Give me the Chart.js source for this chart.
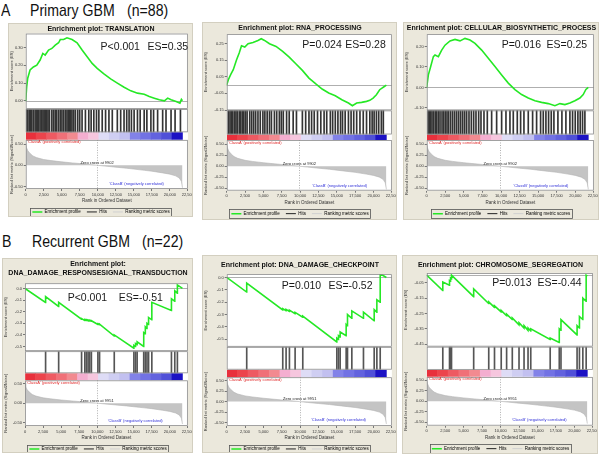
<!DOCTYPE html>
<html>
<head>
<meta charset="utf-8">
<script src="https://cdn.jsdelivr.net/npm/chart.js@4.4.0/dist/chart.umd.min.js"></script>
<style>
  body { margin: 0; background: #fff; width: 600px; height: 457px; position: relative; overflow: hidden;
         font-family: 'Liberation Sans', Arial, sans-serif; }
  .head { position: absolute; font-size: 17px; line-height: 17px; color: #111; white-space: nowrap;
          transform-origin: left top; transform: scaleX(0.83); }
  .panel { position: absolute; background: #ebe8dc; border: 1px solid #d3cfc0; box-sizing: border-box; overflow: hidden; }
  .panel canvas { position: absolute; left: 0; top: 0; }
</style>
</head>
<body>
<div class="head" style="left:1px;top:2px">A</div>
<div class="head" style="left:30px;top:2px">Primary GBM</div>
<div class="head" style="left:127px;top:2px">(n=88)</div>
<div class="head" style="left:2px;top:233px">B</div>
<div class="head" style="left:32px;top:233px">Recurrent GBM</div>
<div class="head" style="left:142px;top:233px">(n=22)</div>

<div class="panel" style="left:8px;top:23px;width:185px;height:194px"><canvas id="a1" width="186" height="192"></canvas></div>
<div class="panel" style="left:202px;top:22px;width:195px;height:198px"><canvas id="a2" width="196" height="196"></canvas></div>
<div class="panel" style="left:403px;top:22px;width:196px;height:198px"><canvas id="a3" width="197" height="196"></canvas></div>
<div class="panel" style="left:2px;top:258px;width:191px;height:195px"><canvas id="b1" width="192" height="193"></canvas></div>
<div class="panel" style="left:202px;top:255px;width:195px;height:198px"><canvas id="b2" width="196" height="196"></canvas></div>
<div class="panel" style="left:402px;top:255px;width:196px;height:199px"><canvas id="b3" width="197" height="197"></canvas></div>

<script>
// Shared ranked list (signal2noise) and axis ticks
const rankTicks = [0, 2500, 5000, 7500, 10000, 12500, 15000, 17500, 20000, 22500];
const metricTicks = [-0.5, -0.25, 0, 0.25, 0.5];
const metricRanks = [0, 100, 300, 600, 1000, 1500, 2500, 3500, 5000, 6500, 7500, 8800, 9900, 11000, 12500, 14000, 15000, 16500, 17500, 19000, 20000, 20800, 21300, 21600, 21750];
const metricValues = [0.52, 0.42, 0.34, 0.28, 0.22, 0.18, 0.135, 0.11, 0.08, 0.055, 0.04, 0.018, 0.0, -0.02, -0.045, -0.07, -0.09, -0.12, -0.14, -0.18, -0.21, -0.25, -0.3, -0.38, -0.53];
const colorBarEdges = [0, 1450, 2900, 4350, 5800, 7250, 8700, 10150, 11600, 13050, 14500, 15950, 17400, 18850, 20300, 21750];

// A: Primary GBM
const translationRank = [0, 140, 280, 605, 1070, 1540, 2000, 2375, 2700, 3170, 3630, 4100, 4565, 4800, 5260, 5730, 6430, 7130, 7825, 8525, 9220, 9920, 10850, 11785, 12715, 13650, 14580, 15510, 16440, 17140, 17840, 18540, 19240, 19700, 20170, 20870, 21400, 21600, 21750];
const translationES = [0, 0.08, 0.127, 0.173, 0.19, 0.2, 0.229, 0.266, 0.257, 0.285, 0.294, 0.313, 0.326, 0.344, 0.344, 0.354, 0.344, 0.326, 0.285, 0.248, 0.21, 0.182, 0.151, 0.123, 0.099, 0.076, 0.056, 0.043, 0.037, 0.024, 0.015, 0.006, 0.0, 0.015, 0.006, -0.004, -0.013, 0.008, 0.0];
const translationHits = [135, 300, 507, 700, 833, 1050, 1299, 1450, 1625, 1800, 1998, 2231, 2400, 2557, 2750, 2929, 3100, 3302, 3628, 3861, 4094, 4300, 4560, 4800, 5026, 5258, 5500, 5724, 5900, 6097, 6260, 6423, 6656, 6889, 7215, 7494, 7820, 8286, 8752, 9078, 9451, 9823, 10150, 10615, 11081, 11547, 12013, 12711, 13177, 13643, 14015, 14342, 14668, 15040, 15506, 15879, 16438, 16810, 17369, 17742, 18301, 19000, 19465, 20164, 20723, 21468];
const translationTicks = [0, 0.05, 0.1, 0.15, 0.2, 0.25, 0.3, 0.35];

const rnaRank = [0, 224, 538, 896, 1345, 1703, 2017, 2465, 2913, 3586, 4258, 4706, 5154, 5827, 6723, 7620, 8516, 9412, 10309, 11205, 12101, 12998, 13894, 14790, 15687, 16584, 17121, 17704, 18375, 19048, 19495, 19944, 20392, 20840, 21155, 21424, 21750];
const rnaES = [0, 0.032, 0.062, 0.092, 0.152, 0.192, 0.236, 0.228, 0.248, 0.256, 0.268, 0.278, 0.268, 0.248, 0.232, 0.202, 0.168, 0.128, 0.088, 0.042, 0.008, -0.024, -0.048, -0.064, -0.088, -0.108, -0.124, -0.108, -0.104, -0.098, -0.092, -0.078, -0.058, -0.028, -0.018, -0.01, 0.0];
const rnaHits = [224, 448, 627, 807, 1031, 1255, 1434, 1703, 1882, 2107, 2331, 2555, 2779, 3137, 3406, 3675, 3944, 4258, 4572, 4930, 5199, 5513, 5827, 6095, 6499, 6813, 7171, 7440, 7709, 8157, 8516, 9054, 9502, 10309, 10757, 11205, 11564, 11922, 12370, 12819, 13267, 13625, 14118, 14432, 14791, 15149, 15508, 15777, 16135, 16583, 16942, 17301, 17704, 18152, 18600, 19048, 19496, 19810, 20079, 20393, 20707, 21065, 21334];
const rnaTicks = [-0.15, -0.1, -0.05, 0, 0.05, 0.1, 0.15, 0.2, 0.25, 0.3];

const biosynRank = [0, 224, 538, 896, 1120, 1570, 2017, 2465, 3137, 3810, 4482, 5154, 5827, 6500, 7396, 8292, 9188, 10085, 10981, 11877, 12773, 13670, 14566, 15462, 16359, 17255, 17928, 18600, 19273, 19944, 20616, 21064, 21424, 21750];
const biosynES = [0, 0.061, 0.102, 0.15, 0.158, 0.15, 0.182, 0.206, 0.227, 0.234, 0.227, 0.239, 0.231, 0.215, 0.182, 0.142, 0.102, 0.061, 0.021, -0.011, -0.035, -0.052, -0.065, -0.073, -0.079, -0.089, -0.079, -0.084, -0.076, -0.065, -0.052, -0.035, -0.01, 0.0];
const biosynHits = [179, 359, 538, 717, 941, 1165, 1345, 1569, 1793, 2062, 2286, 2510, 2734, 2958, 3227, 3496, 3765, 4034, 4303, 4572, 4841, 5109, 5378, 5692, 6006, 6320, 6633, 6992, 7306, 7709, 8157, 8740, 9412, 10085, 10667, 11205, 11653, 12191, 12639, 13087, 13670, 14253, 14791, 15328, 15687, 16045, 16404, 16763, 17121, 17659, 18197, 18735, 19273, 19631, 19990, 20348, 20662, 20976, 21290];
const biosynTicks = [-0.1, -0.05, 0, 0.05, 0.1, 0.15, 0.2, 0.25];

// B: Recurrent GBM
const dnaRespRank = [0, 2830, 2845, 4635, 4650, 7800, 7815, 8250, 8265, 8480, 8490, 8700, 8715, 8930, 8940, 9160, 9170, 10060, 10070, 10290, 10300, 12320, 12330, 15030, 15040, 15260, 15270, 15480, 15490, 16390, 16400, 16610, 16620, 16840, 16850, 17060, 17070, 17510, 17520, 20220, 20230, 20680, 20690, 21040, 21050, 21750];
const dnaRespES = [0, -0.12, -0.07, -0.155, -0.12, -0.265, -0.26, -0.275, -0.268, -0.276, -0.27, -0.278, -0.272, -0.28, -0.275, -0.283, -0.278, -0.31, -0.305, -0.313, -0.307, -0.41, -0.4, -0.515, -0.49, -0.5, -0.475, -0.485, -0.46, -0.5, -0.38, -0.39, -0.33, -0.345, -0.3, -0.31, -0.25, -0.27, -0.12, -0.19, -0.09, -0.11, -0.02, -0.04, 0.03, 0.0];
const dnaRespHits = [2845, 4650, 7815, 8265, 8490, 8715, 8940, 9170, 10070, 10300, 12330, 15040, 15270, 15490, 16400, 16620, 16850, 17070, 17520, 20230, 20690, 21050];
const dnaRespTicks = [-0.5, -0.4, -0.3, -0.2, -0.1, 0];

const checkpointRank = [0, 2715, 2727, 7625, 7636, 8080, 8090, 8535, 8545, 9308, 9318, 10353, 10363, 14990, 15000, 15217, 15227, 15444, 15454, 16262, 16272, 16444, 16454, 17035, 17045, 18620, 18630, 20080, 20090, 20444, 20454, 20899, 20909, 21750];
const checkpointES = [0, -0.118, -0.046, -0.262, -0.252, -0.268, -0.258, -0.274, -0.264, -0.292, -0.282, -0.32, -0.312, -0.52, -0.49, -0.5, -0.47, -0.48, -0.44, -0.47, -0.38, -0.39, -0.3, -0.33, -0.27, -0.33, -0.28, -0.35, -0.26, -0.28, -0.18, -0.2, 0.03, 0.0];
const checkpointHits = [2727, 7636, 8090, 8545, 9318, 10363, 15000, 15227, 15454, 16272, 16454, 17045, 18630, 20090, 20454, 20909];
const checkpointTicks = [-0.5, -0.4, -0.3, -0.2, -0.1, 0];

const chromRank = [0, 2170, 2180, 3080, 3090, 3220, 3230, 3350, 3360, 6350, 6360, 8390, 8400, 9170, 9180, 10080, 10090, 10810, 10820, 11580, 11590, 12490, 12500, 13170, 13180, 13710, 13720, 14080, 14090, 16710, 16720, 17940, 17950, 18170, 18180, 20350, 20360, 20670, 20680, 21130, 21140, 21580, 21590, 21750];
const chromES = [0, -0.1, -0.045, -0.065, -0.035, -0.04, -0.02, -0.025, 0.0, -0.14, -0.09, -0.185, -0.175, -0.21, -0.2, -0.24, -0.23, -0.265, -0.255, -0.29, -0.28, -0.325, -0.31, -0.345, -0.33, -0.36, -0.345, -0.365, -0.35, -0.42, -0.41, -0.44, -0.35, -0.36, -0.29, -0.39, -0.33, -0.345, -0.27, -0.29, -0.15, -0.17, 0.0, -0.005];
const chromHits = [2180, 3090, 3230, 3360, 6360, 8400, 9180, 10090, 10820, 11590, 12500, 13180, 13720, 14090, 16720, 17950, 18180, 20360, 20680, 21140, 21590];
const chromTicks = [-0.45, -0.4, -0.35, -0.3, -0.25, -0.2, -0.15, -0.1, -0.05, 0];

// Styles
const FONT = "'Liberation Sans', Arial, sans-serif";
const GREEN = '#25e825';
const BAR_COLORS = ['#e8303c', '#ec444c', '#ee5a62', '#f07078', '#f28a90', '#f4aed0', '#f6c6de', '#dedcf6', '#cfcef2', '#c2c0f0', '#8282e8', '#7272e4', '#6262de', '#5050d8', '#1c12c4'];

Chart.defaults.font.family = FONT;
Chart.defaults.color = '#333';

// Borders, zero lines and text labels of a GSEA panel
const gseaDeco = {
    id: 'gseaDeco',
    beforeDraw(chart) {
        const { ctx, chartArea: a } = chart;
        ctx.save();
        ctx.fillStyle = '#fff';
        ctx.fillRect(a.left, a.top, a.width, a.height);
        ctx.restore();
    },
    beforeDatasetsDraw(chart, args, o) {
        const { ctx, chartArea: a, scales: s } = chart;
        ctx.save();
        ctx.strokeStyle = '#9a9a9a';
        ctx.lineWidth = 0.8;
        const y0 = Math.round(s.yES.getPixelForValue(0)) + 0.5;
        ctx.beginPath();
        ctx.moveTo(a.left, y0);
        ctx.lineTo(a.right, y0);
        ctx.stroke();
        const xz = Math.round(s.x.getPixelForValue(o.zeroCross)) + 0.5;
        ctx.setLineDash([1, 1.5]);
        ctx.beginPath();
        ctx.moveTo(xz, s.yRank.top);
        ctx.lineTo(xz, s.yRank.bottom);
        ctx.stroke();
        ctx.restore();
    },
    afterDatasetsDraw(chart, args, o) {
        const { ctx, chartArea: a, scales: s } = chart;
        ctx.save();
        ctx.strokeStyle = '#8a8a8a';
        ctx.lineWidth = 0.8;
        ['yES', 'yHit', 'yRank'].forEach(id => {
            const sc = s[id];
            ctx.strokeRect(a.left + 0.5, sc.top + 0.5, a.width - 1, sc.height - 1);
        });

        // P value and ES
        ctx.fillStyle = '#1a1a1a';
        ctx.font = '10.5px ' + FONT;
        ctx.textBaseline = 'middle';
        ctx.fillText(o.pText, s.x.getPixelForValue(o.pAt[0]), s.yES.getPixelForValue(o.pAt[1]));
        ctx.fillText(o.esText, s.x.getPixelForValue(o.esAt[0]), s.yES.getPixelForValue(o.esAt[1]));

        // ranked list notes
        ctx.font = '4px ' + FONT;
        ctx.textAlign = 'center';
        ctx.textBaseline = 'bottom';
        ctx.fillStyle = '#222';
        ctx.fillText('Zero cross at ' + o.zeroCross, s.x.getPixelForValue(o.zeroCross), s.yRank.getPixelForValue(0) - 0.5);
        ctx.fillStyle = '#3030d8';
        ctx.textBaseline = 'middle';
        ctx.fillText("'ClassB' (negatively correlated)", s.x.getPixelForValue(o.classBAt[0]), s.yRank.getPixelForValue(o.classBAt[1]));
        ctx.fillStyle = '#e02828';
        ctx.textAlign = 'left';
        ctx.textBaseline = 'top';
        ctx.fillText("'ClassA' (positively correlated)", a.left + 1.5, s.yRank.top + 0.5);
        ctx.restore();
    },
    afterDraw(chart) {
        // box round the legend items
        const boxes = chart.legend && chart.legend.legendHitBoxes;
        if (!boxes || !boxes.length) return;
        const left = Math.min(...boxes.map(b => b.left)) - 2;
        const right = Math.max(...boxes.map(b => b.left + b.width)) + 2;
        const top = Math.min(...boxes.map(b => b.top)) - 2;
        const bottom = Math.max(...boxes.map(b => b.top + b.height)) + 2;
        const { ctx } = chart;
        ctx.save();
        ctx.strokeStyle = '#555';
        ctx.lineWidth = 0.8;
        ctx.strokeRect(Math.round(left) + 0.5, Math.round(top) + 0.5, Math.round(right - left), Math.round(bottom - top));
        ctx.restore();
    }
};

// Build one enrichment plot
function buildPanel(p) {
    const es = p.esRank.map((r, i) => ({ x: r, y: p.esValue[i] }));
    const hits = p.hits.map(r => ({ x: r, y: 1 }));
    const blocks = colorBarEdges.slice(1).map((e, i) => ({ x: [colorBarEdges[i], e], y: 'bar' }));
    const metric = metricRanks.map((r, i) => ({ x: r, y: metricValues[i] }));
    const small = { size: 4 };
    const fixWidth = s => { s.width = p.axisW; };

    new Chart(document.getElementById(p.id), {
        type: 'line',
        data: {
            datasets: [
                { label: 'Enrichment profile', data: es, yAxisID: 'yES', borderColor: GREEN, borderWidth: 1.6, pointRadius: 0, tension: 0 },
                { type: 'bar', label: 'Hits', data: hits, yAxisID: 'yHit', backgroundColor: p.hitColor, barThickness: 1 },
                { type: 'bar', label: 'bar', data: blocks, indexAxis: 'y', xAxisID: 'x', yAxisID: 'yBar', backgroundColor: BAR_COLORS,
                  grouped: false, barPercentage: 1, categoryPercentage: 1, borderWidth: 0 },
                { label: 'Ranking metric scores', data: metric, yAxisID: 'yRank', borderColor: '#b4b4b4', backgroundColor: '#c4c4c4',
                  fill: 'origin', borderWidth: 0.6, pointRadius: 0, tension: 0 }
            ]
        },
        options: {
            responsive: false,
            animation: false,
            events: [],
            layout: { padding: { left: 0, right: 2, top: 0, bottom: 0 } },
            scales: {
                x: {
                    type: 'linear', min: 0, max: 22500, offset: false,
                    afterBuildTicks: s => { s.ticks = rankTicks.map(v => ({ value: v })); },
                    ticks: { font: small, padding: 1, maxRotation: 0, autoSkip: false, callback: v => v.toLocaleString('en-US') },
                    grid: { offset: false, drawOnChartArea: false, tickLength: 2, color: '#777' },
                    border: { display: false },
                    title: { display: true, text: 'Rank in Ordered Dataset', font: { size: 4.5 }, padding: { top: 0.5, bottom: 0 } }
                },
                yRank: {
                    axis: 'y', type: 'linear', position: 'left', stack: 'gsea', stackWeight: p.weights[3], weight: 1,
                    min: p.rankMin, max: p.rankMax, afterFit: fixWidth,
                    afterBuildTicks: s => { s.ticks = metricTicks.map(v => ({ value: v })); },
                    ticks: { font: small, padding: 1, callback: v => v.toFixed(2) },
                    grid: { drawOnChartArea: false, tickLength: 2, color: '#777' },
                    border: { display: false },
                    title: { display: true, text: 'Ranked list metric (Signal2Noise)', font: small, padding: 0 }
                },
                yBar: {
                    axis: 'y', type: 'category', labels: ['bar'], offset: true, position: 'left', stack: 'gsea', stackWeight: p.weights[2], weight: 2,
                    afterFit: fixWidth, ticks: { display: false }, grid: { display: false }, border: { display: false }
                },
                yHit: {
                    axis: 'y', type: 'linear', min: 0, max: 1, position: 'left', stack: 'gsea', stackWeight: p.weights[1], weight: 3,
                    afterFit: fixWidth, ticks: { display: false }, grid: { display: false }, border: { display: false }
                },
                yES: {
                    axis: 'y', type: 'linear', position: 'left', stack: 'gsea', stackWeight: p.weights[0], weight: 4,
                    min: p.esMin, max: p.esMax, afterFit: fixWidth,
                    afterBuildTicks: s => { s.ticks = p.esTicks.map(v => ({ value: v })); },
                    ticks: { font: small, padding: 1, callback: v => v.toFixed(p.esDec) },
                    grid: { drawOnChartArea: false, tickLength: 2, color: '#777' },
                    border: { display: false },
                    title: { display: true, text: 'Enrichment score (ES)', font: small, padding: 0 }
                }
            },
            plugins: {
                title: { display: true, text: p.title, color: '#111', font: { size: 7, weight: 'bold', lineHeight: 1.3 }, padding: p.titlePad },
                tooltip: { enabled: false },
                legend: {
                    position: 'bottom',
                    maxHeight: p.legendH,
                    labels: {
                        font: { size: 4.5 }, color: '#333', usePointStyle: true, pointStyleWidth: 10, boxHeight: 3, padding: 6,
                        generateLabels: () => [
                            { text: 'Enrichment profile', strokeStyle: GREEN, fillStyle: GREEN, lineWidth: 1.5, pointStyle: 'line' },
                            { text: 'Hits', strokeStyle: '#222', fillStyle: '#222', lineWidth: 1, pointStyle: 'line' },
                            { text: 'Ranking metric scores', strokeStyle: '#d0d0d0', fillStyle: '#d0d0d0', lineWidth: 1, pointStyle: 'line' }
                        ]
                    }
                },
                gseaDeco: {
                    pText: p.pText, esText: p.esText, pAt: p.pAt, esAt: p.esAt,
                    zeroCross: p.zeroCross, classBAt: p.classBAt
                }
            }
        },
        plugins: [gseaDeco]
    });
}

buildPanel({ id: 'a1', title: 'Enrichment plot: TRANSLATION', esRank: translationRank, esValue: translationES, hits: translationHits,
    esTicks: translationTicks, esMin: -0.046, esMax: 0.378, esDec: 2, rankMin: -0.56, rankMax: 0.6, weights: [76, 23.5, 7.5, 49.5],
    pText: 'P<0.001', esText: 'ES=0.35', pAt: [10380, 0.30], esAt: [16900, 0.30], zeroCross: 9902, classBAt: [15370, -0.45],
    axisW: 16.7, titlePad: { top: 0.2, bottom: 0.2 }, legendH: 12.3, hitColor: '#333' });
buildPanel({ id: 'a2', title: 'Enrichment plot: RNA_PROCESSING', esRank: rnaRank, esValue: rnaES, hits: rnaHits,
    esTicks: rnaTicks, esMin: -0.152, esMax: 0.306, esDec: 2, rankMin: -0.56, rankMax: 0.6, weights: [76.7, 24.3, 5.5, 51],
    pText: 'P=0.024', esText: 'ES=0.28', pAt: [10300, 0.242], esAt: [16135, 0.242], zeroCross: 9902, classBAt: [15370, -0.45],
    axisW: 23.7, titlePad: { top: 1, bottom: 1 }, legendH: 13.6, hitColor: '#333' });
buildPanel({ id: 'a3', title: 'Enrichment plot: CELLULAR_BIOSYNTHETIC_PROCESS', esRank: biosynRank, esValue: biosynES, hits: biosynHits,
    esTicks: biosynTicks, esMin: -0.112, esMax: 0.26, esDec: 2, rankMin: -0.56, rankMax: 0.6, weights: [76.7, 24.3, 5.5, 51],
    pText: 'P=0.016', esText: 'ES=0.25', pAt: [10085, 0.206], esAt: [16135, 0.206], zeroCross: 9902, classBAt: [15370, -0.45],
    axisW: 22.7, titlePad: { top: 1, bottom: 1 }, legendH: 13.6, hitColor: '#333' });
buildPanel({ id: 'b1', title: ['Enrichment plot:', 'DNA_DAMAGE_RESPONSESIGNAL_TRANSDUCTION'], esRank: dnaRespRank, esValue: dnaRespES, hits: dnaRespHits,
    esTicks: dnaRespTicks, esMin: -0.54, esMax: 0.045, esDec: 1, rankMin: -0.58, rankMax: 0.58, weights: [68.4, 22.3, 7, 46],
    pText: 'P<0.001', esText: 'ES=-0.51', pAt: [5900, -0.086], esAt: [12955, -0.086], zeroCross: 9951, classBAt: [15230, -0.44],
    axisW: 22, titlePad: { top: 0.7, bottom: 5.3 }, legendH: 11.3, hitColor: '#555' });
buildPanel({ id: 'b2', title: 'Enrichment plot: DNA_DAMAGE_CHECKPOINT', esRank: checkpointRank, esValue: checkpointES, hits: checkpointHits,
    esTicks: checkpointTicks, esMin: -0.56, esMax: 0.027, esDec: 1, rankMin: -0.58, rankMax: 0.58, weights: [73, 23, 7.5, 49],
    pText: 'P=0.010', esText: 'ES=-0.52', pAt: [7500, -0.068], esAt: [13860, -0.068], zeroCross: 9951, classBAt: [15230, -0.44],
    axisW: 23.7, titlePad: { top: 4.5, bottom: 4.5 }, legendH: 11.3, hitColor: '#555' });
buildPanel({ id: 'b3', title: 'Enrichment plot: CHROMOSOME_SEGREGATION', esRank: chromRank, esValue: chromES, hits: chromHits,
    esTicks: chromTicks, esMin: -0.467, esMax: 0.015, esDec: 2, rankMin: -0.58, rankMax: 0.58, weights: [74, 23.3, 7, 49],
    pText: 'P=0.013', esText: 'ES=-0.44', pAt: [8860, -0.054], esAt: [15000, -0.054], zeroCross: 9951, classBAt: [15230, -0.44],
    axisW: 23.7, titlePad: { top: 4.5, bottom: 3.3 }, legendH: 12.6, hitColor: '#555' });
</script>
</body>
</html>
